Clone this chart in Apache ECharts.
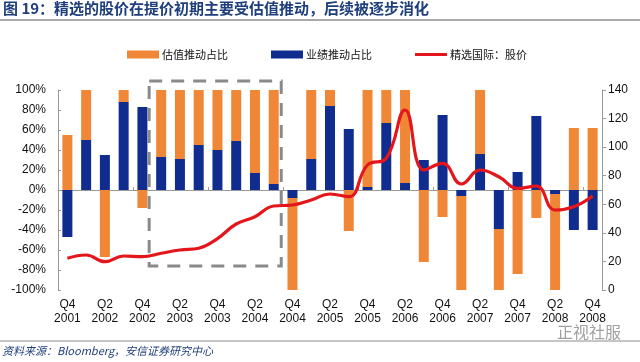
<!DOCTYPE html>
<html>
<head>
<meta charset="utf-8">
<script src="https://cdn.jsdelivr.net/npm/echarts@6/dist/echarts.min.js"></script>
<style>html,body{margin:0;padding:0;background:#fff;}#c{width:640px;height:362px;}</style>
</head>
<body>
<div id="c"></div>
<script>
var categories = ['Q4 2001','Q1 2002','Q2 2002','Q3 2002','Q4 2002','Q1 2003','Q2 2003','Q3 2003','Q4 2003',
  'Q1 2004','Q2 2004','Q3 2004','Q4 2004','Q1 2005','Q2 2005','Q3 2005','Q4 2005',
  'Q1 2006','Q2 2006','Q3 2006','Q4 2006','Q1 2007','Q2 2007','Q3 2007','Q4 2007',
  'Q1 2008','Q2 2008','Q3 2008','Q4 2008'];
var valuationShare = [55, 50, -67, 12, -18, 67, 69, 55, 60, 51, 83, 94, -92, 69, 16, -41, 97, 33, 93, -72, -27, -94, 64, -61, -84, -28, -96, 62, 62];
var earningsShare  = [-47, 50, 35, 88, 83, 33, 31, 45, 40, 49, 17, 6, -8, 31, 84, 61, 3, 67, 7, 30, 75, -6, 36, -39, 18, 74, -4, -40, -40];
var stockPrice     = [22.2, 24.5, 19.8, 23.8, 23.3, 25.7, 28, 29.2, 36, 46.2, 51.3, 58.8, 59.5, 63, 67.2, 65.3, 87.5, 92.2, 126, 84, 88.7, 74.2, 84, 79.3, 71.2, 72.8, 56, 58.3, 65.8];
var leftTicks = {min: -100, max: 100, interval: 20};
var rightTicks = {min: 0, max: 140, interval: 20};
var seriesNames = ['估值推动占比', '业绩推动占比', '精选国际：股价'];
var titleText = '图 19：精选的股价在提价初期主要受估值推动，后续被逐步消化';
var sourceText = '资料来源：Bloomberg，安信证券研究中心';
var watermarkText = '正视社服';

var chart = echarts.init(document.getElementById('c'));
var ORANGE = '#EF8737', BLUE = '#112C8F', RED = '#E5161B';
var axisFont = 'Liberation Sans, Arial, sans-serif';
var cjk = '"Noto Sans CJK SC", sans-serif';

var option = {
  animation: false,
  backgroundColor: '#fff',
  grid: {left: 58, right: 38, top: 90, bottom: 72},
  legend: {
    data: [
      {name: seriesNames[0], icon: 'rect'},
      {name: seriesNames[1], icon: 'rect'},
      {name: seriesNames[2], icon: 'path://M0,0 L32,0 L32,3 L0,3 Z'}
    ],
    left: 122, top: 44,
    itemWidth: 32, itemHeight: 8, itemGap: 43,
    textStyle: {fontSize: 11, color: '#111', fontFamily: cjk, padding: [0, 0, 0, -2]}
  },
  xAxis: [
    {
      type: 'category', data: categories, position: 'bottom',
      axisLine: {show: false, onZero: false},
      axisTick: {show: false},
      axisLabel: {
        interval: 1, margin: 8, fontSize: 12, color: '#111', fontFamily: axisFont, lineHeight: 14,
        formatter: function (v) { return v.replace(' ', '\n'); }
      }
    },
    {
      type: 'category', data: categories, position: 'top',
      axisLine: {show: true, onZero: true, onZeroAxisIndex: 0, lineStyle: {color: '#9a9a9a', width: 1}},
      axisTick: {show: true, inside: false, length: 3, lineStyle: {color: '#9a9a9a'}},
      axisLabel: {show: false}
    }
  ],
  yAxis: [
    {
      type: 'value', min: leftTicks.min, max: leftTicks.max, interval: leftTicks.interval,
      splitLine: {show: false},
      axisLine: {show: true, lineStyle: {color: '#9a9a9a'}},
      axisTick: {show: true, inside: true, length: 3, lineStyle: {color: '#9a9a9a'}},
      axisLabel: {margin: 12, fontSize: 12, color: '#111', fontFamily: axisFont, formatter: '{value}%'}
    },
    {
      type: 'value', min: rightTicks.min, max: rightTicks.max, interval: rightTicks.interval,
      position: 'right',
      splitLine: {show: false},
      axisLine: {show: true, lineStyle: {color: '#9a9a9a'}},
      axisTick: {show: true, inside: false, length: 4, lineStyle: {color: '#9a9a9a'}},
      axisLabel: {margin: 6, fontSize: 12, color: '#111', fontFamily: axisFont}
    }
  ],
  series: [
    {
      name: seriesNames[1], type: 'bar', stack: 'share', data: earningsShare,
      xAxisIndex: 0, yAxisIndex: 0, barWidth: 10, itemStyle: {color: BLUE}, z: 2
    },
    {
      name: seriesNames[0], type: 'bar', stack: 'share', data: valuationShare,
      xAxisIndex: 0, yAxisIndex: 0, barWidth: 10, itemStyle: {color: ORANGE}, z: 2
    },
    {
      name: seriesNames[2], type: 'line', data: stockPrice, xAxisIndex: 0, yAxisIndex: 1,
      smooth: 0.45, symbol: 'none', showSymbol: false,
      lineStyle: {color: RED, width: 3.2}, itemStyle: {color: RED}, z: 5
    }
  ]
};
chart.setOption(option);

// dashed highlight box, positioned via the chart's own scales
var p4 = chart.convertToPixel({xAxisIndex: 0}, categories[4]);
var p5 = chart.convertToPixel({xAxisIndex: 0}, categories[5]);
var p11 = chart.convertToPixel({xAxisIndex: 0}, categories[11]);
var p12 = chart.convertToPixel({xAxisIndex: 0}, categories[12]);
var yTop = chart.convertToPixel({yAxisIndex: 0}, 109);
var yBot = chart.convertToPixel({yAxisIndex: 0}, -76);
var bx0 = p4 + 0.36 * (p5 - p4);
var bx1 = p11 + 0.4 * (p12 - p11);

chart.setOption({
  graphic: [
    {type: 'text', left: 3, top: 1, style: {text: titleText, fill: '#1F3E7C', font: 'bold 15px ' + cjk}},
    {type: 'line', shape: {x1: 0, y1: 20, x2: 640, y2: 20}, style: {stroke: '#8C8C8C', lineWidth: 1.5}},
    {type: 'line', shape: {x1: 0, y1: 341, x2: 640, y2: 341}, style: {stroke: '#8C8C8C', lineWidth: 1}},
    {type: 'text', left: 2, top: 345, style: {text: sourceText, fill: '#1F3E7C', font: 'italic 11px ' + cjk}},
    {type: 'text', left: 557, top: 324, style: {text: watermarkText, fill: '#A0A0A0', font: '16px ' + cjk}},
    {type: 'rect', z: 10, shape: {x: bx0, y: yTop, width: bx1 - bx0, height: yBot - yTop},
      style: {fill: 'none', stroke: '#8A8A8A', lineWidth: 3, lineDash: [13, 9]}}
  ]
});
</script>
</body>
</html>
